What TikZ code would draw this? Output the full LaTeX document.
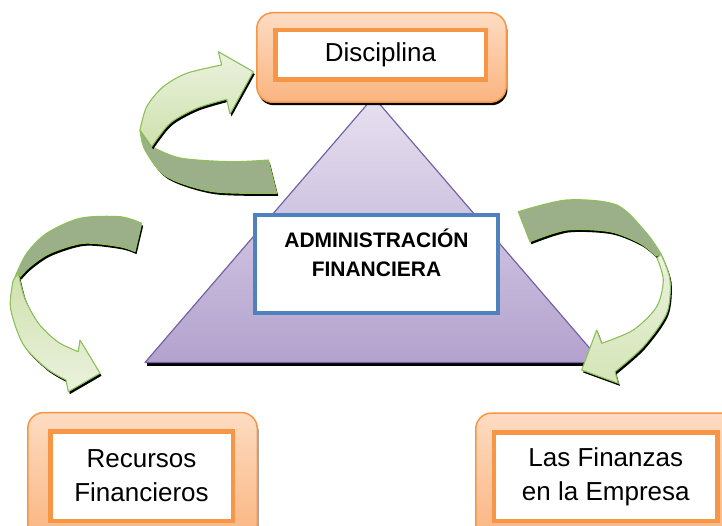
\documentclass[tikz,border=0pt]{standalone}
\usepackage{fontspec}
\setmainfont{Liberation Sans}
\usetikzlibrary{shadows}
\definecolor{orB}{HTML}{F79646}
\definecolor{orT}{HTML}{FDDCC2}
\definecolor{orD}{HTML}{FAB47F}
\definecolor{blB}{HTML}{4F81BD}
\definecolor{trT}{HTML}{E7E0F0}
\definecolor{trD}{HTML}{B3A2CE}
\definecolor{trB}{HTML}{7564A6}
\definecolor{gDark}{HTML}{9BAF88}
\definecolor{gLine}{HTML}{8EC15A}
\definecolor{gL1}{HTML}{CFE1AE}
\definecolor{gL2}{HTML}{EBF2DE}
\begin{document}
\begin{tikzpicture}[x=1pt,y=-1pt,
  outerbox/.style={draw=orB, line width=1.5pt, rounded corners=16pt, top color=orT, bottom color=orD, inner sep=0pt,
    drop shadow={shadow xshift=1.2pt, shadow yshift=-3pt, fill=black, opacity=1}},
  innerbox/.style={draw=orB, line width=4.5pt, fill=white, inner sep=0pt, align=center,
    font=\fontsize{26}{34}\selectfont},
  adminbox/.style={draw=blB, line width=4pt, fill=white, inner sep=0pt},
  band/.style={draw=gLine, line width=1.1pt, line join=round,
    drop shadow={shadow xshift=1.5pt, shadow yshift=-2.5pt, fill=black, opacity=1}},
  darkband/.style={band, fill=gDark},
]
\useasboundingbox (0,0) rectangle (722,526);
\clip (0,0) rectangle (722,526);

% triangle
\coordinate (apex) at (373.5,97);
\coordinate (bl) at (145,362.5);
\coordinate (br) at (602,362.5);
\fill[black] (147,362.5) rectangle (600,366);
\filldraw[draw=trB, line width=1.2pt, top color=trT, bottom color=trD, line join=round] (apex) -- (bl) -- (br) -- cycle;

% central box
\node[adminbox, minimum width=243pt, minimum height=98pt] (adminbox) at (376.5,264) {};
\node[font=\fontsize{21}{29}\selectfont\bfseries, align=center, inner sep=0pt] (admin)
  at ([yshift=11.5pt]adminbox.center) {ADMINISTRACIÓN\\FINANCIERA};

% top box
\node[outerbox, minimum width=249.5pt, minimum height=89.5pt] (disco) at (381.5,57.5) {};
\node[innerbox, minimum width=210.5pt, minimum height=49.5pt] (disc) at (380.5,55) {Disciplina};

% arrow 1 (top-left)
\filldraw[darkband] plot[smooth] coordinates {(268.3,160) (230,161.7) (180,158) (151.7,146.7)}
  -- (140,130) -- plot[smooth] coordinates {(140,130) (145,150) (166.7,176.7) (213.3,191.7) (276.7,193.3)} -- cycle;
\filldraw[band, top color=gL2, bottom color=gL1] plot[smooth] coordinates {(140,130) (146.7,106.7) (163.3,86.7) (186.7,73.3) (221.7,65)}
  -- (218.3,51.7) -- (253.3,71.7) -- (230,114)
  -- plot[smooth] coordinates {(226.7,99.3) (196.7,108.3) (170,123.3) (151.7,146.7)} -- cycle;

% arrow 2 (left)
\filldraw[darkband] plot[smooth] coordinates {(141.7,223.3) (120,216.7) (80,218.3) (46.7,233.3) (26.7,253.3) (15,277)}
  -- plot[smooth] coordinates {(20,277) (30,266.7) (50,253.3) (83.3,243.3) (120,246.7) (135,251.7)} -- cycle;
\filldraw[band, top color=gL1, bottom color=gL2] plot[smooth] coordinates {(13.3,280) (10.5,308) (23,344) (46,368) (66,380)}
  -- (68.3,391.7) -- (100,373.3) -- (80,340)
  -- plot[smooth] coordinates {(78.3,351.7) (58,342) (39,324) (25,299) (18.3,273.3)} -- cycle;

% arrow 3 (right)
\filldraw[darkband] plot[smooth] coordinates {(518.3,211.7) (566.7,200) (616.7,205) (646.7,233.3) (661,254)}
  -- plot[smooth] coordinates {(656,256) (640,243.3) (610,231.7) (566.7,230) (530,241.7)} -- cycle;
\filldraw[band, top color=gL2, bottom color=gL1!80!gL2] plot[smooth] coordinates {(661,254) (670,280) (666.7,313.3) (643.3,346.7) (615,371.7)}
  -- (618.3,383.3) -- (581.7,370) -- (596.7,330)
  -- plot[smooth] coordinates {(601.7,343.3) (633.3,330) (656.7,306.7) (663.3,280) (657,258)} -- cycle;

% bottom boxes
\node[outerbox, minimum width=229.5pt, minimum height=129pt] (recO) at (142.5,477) {};
\node[innerbox, minimum width=182.5pt, minimum height=89.5pt] (rec) at (141.5,476) {Recursos\\Financieros};
\node[outerbox, minimum width=263.5pt, minimum height=128pt] (finO) at (607.5,477) {};
\node[innerbox, minimum width=223.8pt, minimum height=88.5pt] (fin) at (605.8,476.5) {Las Finanzas\\en la Empresa};
\end{tikzpicture}
\end{document}
